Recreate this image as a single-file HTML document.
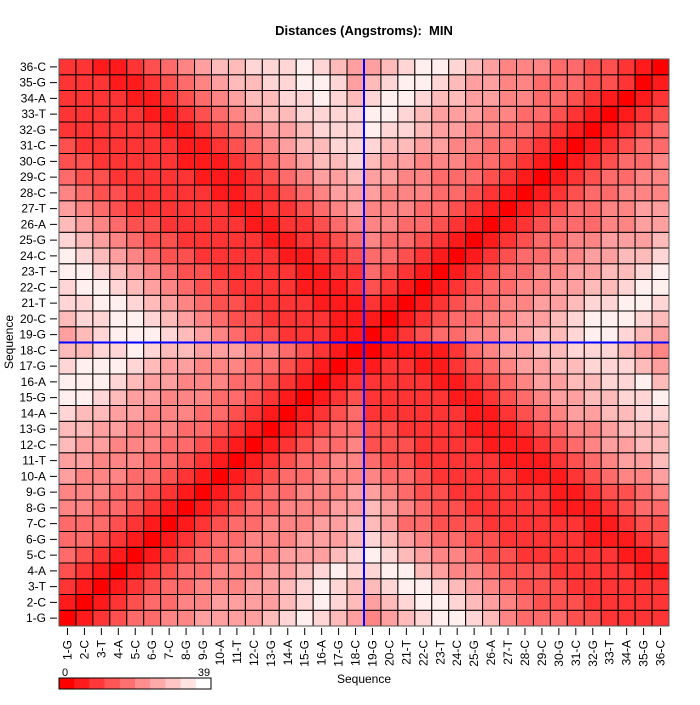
<!DOCTYPE html>
<html><head><meta charset="utf-8"><style>
html,body{margin:0;padding:0;background:#fff;}
svg text{font-family:"Liberation Sans",Arial,sans-serif;}
</style></head><body>
<svg id="chart" width="700" height="700" viewBox="0 0 700 700">
<text x="364" y="35" text-anchor="middle" font-size="13" font-weight="bold">Distances (Angstroms):&#160; MIN</text>
<text x="364" y="683" text-anchor="middle" font-size="12">Sequence</text>
<text x="13" y="342" text-anchor="middle" font-size="12" transform="rotate(-90 13 342)">Sequence</text>
<g id="cells"></g>
<g id="axes"></g>
<g id="legend"></g>
</svg>
<script>
const residues = ["1-G","2-C","3-T","4-A","5-C","6-G","7-C","8-G","9-G","10-A","11-T","12-C","13-G","14-A","15-G","16-A","17-G","18-C","19-G","20-C","21-T","22-C","23-T","24-C","25-G","26-A","27-T","28-C","29-C","30-G","31-C","32-G","33-T","34-A","35-G","36-C"];
const valueMin = 0;
const valueMax = 39;
const legendLabels = ["0","39"];
const highlightResidue = 18;
// colour-level readings (0 = min/red .. 9 = near max/white), rows from 1-G (bottom) to 36-C (top)
const levelRows = [
"012344556666789876567899875444332222",
"101234455666678987678998765433322222",
"210123445556678987789987654333222222",
"321012344555667898899765543332222211",
"432101234455566678987655433222222112",
"443210123445556667876544332222211123",
"444321012344555667764433322222211233",
"554432101234455566765433222221112344",
"555443210123445556654332222221123345",
"655544321012344555544322222111234556",
"665554432101234455433222221112345667",
"766555443210123445333222211123456677",
"776655544321012344332222111234556777",
"877665554432101234222222112345667788",
"998766555443210123222221123456677889",
"999876655544321012222211234566778897",
"899987665554432101122112345667788876",
"778898776665543210011112456677888765",
"678999876543322211012344556677899876",
"788998765433222211101234455667899987",
"889987654332222111210123445566788998",
"899876543322221112321012344556677899",
"998765433222221122432101234455667789",
"987654332222211223443210123445566778",
"876543322222112234544321012344556667",
"765433222221122345554432101234445566",
"654322222211223456555443210123445566",
"543322222112234566655544321012344555",
"433222221112345667665544432101234455",
"332222211123456778766555443210123445",
"322222211234567788877665544321012344",
"222222112345667888988766554432101234",
"222221123456778888998766655443210123",
"222211234567788987899877665544321012",
"222112345677889986789987665544433201",
"221123456778889876678998765554433210"
];
const NS="http://www.w3.org/2000/svg";
const cellsG=document.getElementById('cells');
const axesG=document.getElementById('axes');
const legendG=document.getElementById('legend');
const L=59,R=669,T=59,B=626;
const n=residues.length;
const cw=(R-L)/n, ch=(B-T)/n;
function xPos(i){return L+i*cw;}
function yPos(i){return B-(i+1)*ch;}
function colorFor(v){
  const t=Math.max(0,Math.min(1,(v-valueMin)/(valueMax-valueMin)));
  const g=Math.round(255*t);
  return 'rgb(255,'+g+','+g+')';
}
function mk(tag,attrs,parent){
  const e=document.createElementNS(NS,tag);
  for(const k in attrs)e.setAttribute(k,attrs[k]);
  parent.appendChild(e);return e;
}
const distances=levelRows.map(r=>r.split('').map(c=>Number(c)*valueMax/9.6));
for(let r=0;r<n;r++){
  for(let c=0;c<n;c++){
    const rect=mk('rect',{x:xPos(c),y:yPos(r),width:cw,height:ch,fill:colorFor(distances[r][c]),stroke:'#000','stroke-width':1},cellsG);
    
    
  }
}
mk('rect',{x:L,y:T,width:R-L,height:B-T,fill:'none',stroke:'#555','stroke-width':1},axesG);
const hx=xPos(highlightResidue), hy=yPos(highlightResidue-1);
const vl=mk('line',{x1:hx,y1:T,x2:hx,y2:B,stroke:'#0000ff','stroke-width':2},axesG);


const hl=mk('line',{x1:L,y1:hy,x2:R,y2:hy,stroke:'#0000ff','stroke-width':2},axesG);


for(let i=0;i<n;i++){
  const cy=yPos(i)+ch/2;
  mk('line',{x1:50,y1:cy,x2:57,y2:cy,stroke:'#000','stroke-width':1},axesG);
  const t=mk('text',{x:46,y:cy+4,'text-anchor':'end','font-size':12},axesG);
  t.textContent=residues[i];
  
  
  const cx=xPos(i)+cw/2;
  mk('line',{x1:cx,y1:628,x2:cx,y2:635,stroke:'#000','stroke-width':1},axesG);
  const tx=mk('text',{x:cx+4,y:640,'text-anchor':'end','font-size':12,transform:'rotate(-90 '+(cx+4)+' 640)'},axesG);
  tx.textContent=residues[i];
  
  
}
const lx=59, lw=152, ly=678, lh=11, bins=10;
for(let b=0;b<bins;b++){
  const r=mk('rect',{x:lx+b*lw/bins,y:ly,width:lw/bins+0.3,height:lh,fill:colorFor(valueMin+(valueMax-valueMin)*b/(bins-1))},legendG);
  
  
}
mk('rect',{x:lx,y:ly,width:lw,height:lh,fill:'none',stroke:'#000','stroke-width':1},legendG);
const l0=mk('text',{x:65,y:676,'text-anchor':'middle','font-size':11},legendG);
l0.textContent=legendLabels[0];


const l1=mk('text',{x:204,y:676,'text-anchor':'middle','font-size':11},legendG);
l1.textContent=legendLabels[1];


</script>
</body></html>
